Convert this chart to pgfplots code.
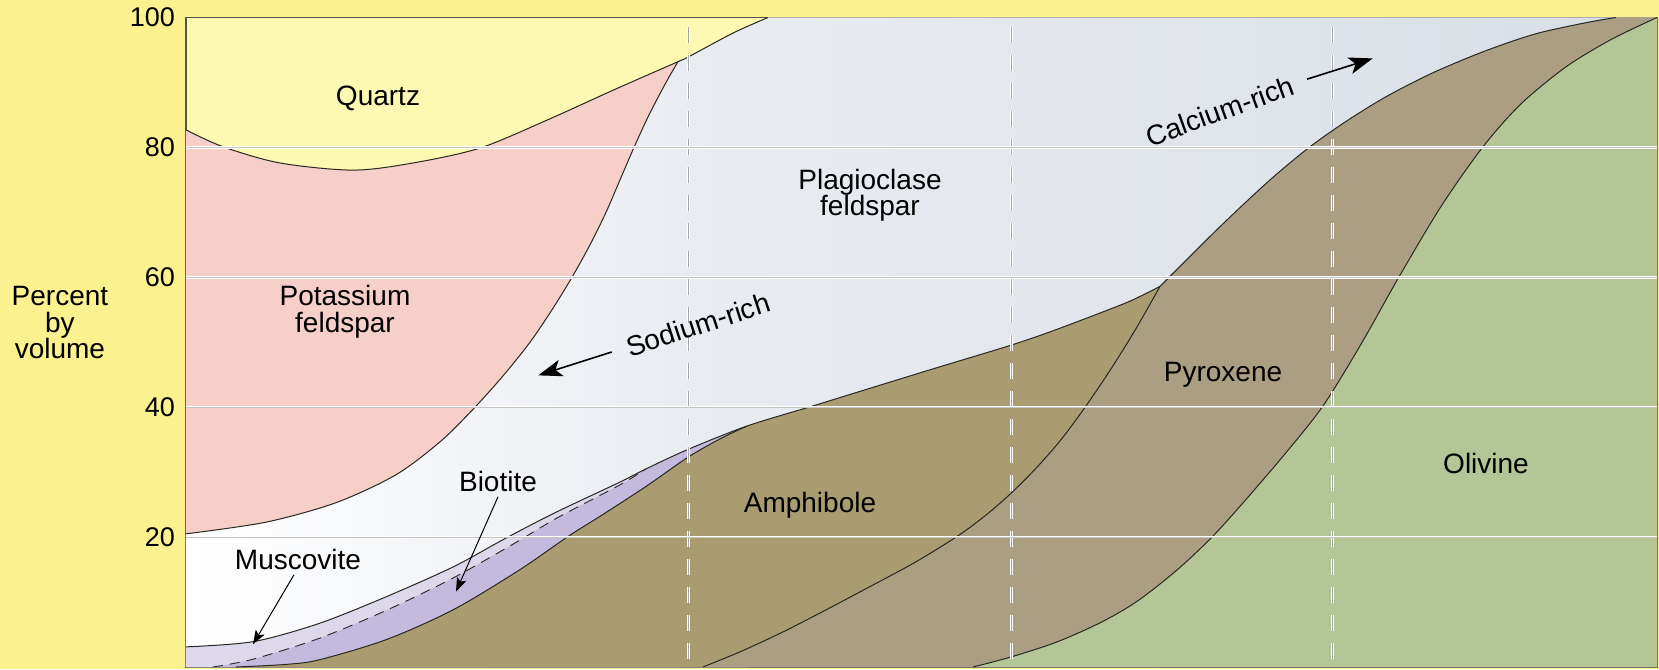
\documentclass[border=0pt]{standalone}
\usepackage{fontspec}
\setmainfont{Liberation Sans}
\usepackage{pgfplots}
\pgfplotsset{compat=1.18}
\usetikzlibrary{arrows.meta}
\definecolor{outerY}{RGB}{251,241,142}
\definecolor{quartzC}{RGB}{253,248,178}
\definecolor{pinkC}{RGB}{245,207,200}
\definecolor{plagM}{RGB}{233,236,241}
\definecolor{plagR}{RGB}{217,222,230}
\definecolor{muscC}{RGB}{222,216,236}
\definecolor{bioC}{RGB}{196,186,221}
\definecolor{amphC}{RGB}{170,156,112}
\definecolor{pyxC}{RGB}{171,158,130}
\definecolor{oliC}{RGB}{180,197,150}
\definecolor{frameC}{RGB}{85,85,75}
\definecolor{gridC}{RGB}{196,196,192}
\definecolor{lineC}{RGB}{40,40,35}
\newcommand{\lab}{\fontsize{14}{13.3}\selectfont}
\begin{document}
\begin{tikzpicture}
\path[use as bounding box, fill=outerY] (-93pt,-1pt) rectangle (736.5pt,333.5pt);
\begin{axis}[
  at={(0,0)}, anchor=south west,
  scale only axis, width=735.5pt, height=324.75pt,
  xmin=0, xmax=1471, ymin=0, ymax=100,
  axis background/.style={fill=quartzC},
  xtick=\empty, ytick={20,40,60,80,100},
  major tick length=0pt,
  tick style={draw=none},
  yticklabel style={font=\fontsize{13.5}{13.5}\selectfont, xshift=-2pt},
  /pgf/number format/assume math mode=true,
  axis line style={draw=frameC, line width=0.8pt},
  ylabel={Percent\\by\\volume},
  ylabel style={at={(axis description cs:-0.0857,0.53)}, rotate=-90, anchor=center, align=center, font=\lab},
  clip=true,
]
% ---------- fills (painted from back to front) ----------
% potassium feldspar: under the quartz boundary (left part)
\addplot[fill=pinkC, draw=none, smooth] coordinates {(0,82.7)(37,80.1)(94,77.6)(167,76.5)(227,77.6)(294,79.9)(361,84.2)(427,88.8)(492,93.2)} \closedcycle;
% small patch under the seam of the two plagioclase pieces
\addplot[fill=plagM, draw=none] coordinates {(487,92)(497,92)} \closedcycle;
% plagioclase, left part: under the K-feldspar boundary
\addplot[draw=none, smooth, left color=white, right color=plagM] coordinates {(0,20.5)(80,22.3)(150,25.3)(210,29.6)(255,34.8)(289,40.0)(318,45.0)(344,50.0)(366,55.0)(386,60.0)(404,65.0)(420,70.0)(434,75.0)(448,80.0)(463,85.0)(480,90.0)(492,93.2)} \closedcycle;
% plagioclase, right part: under the quartz boundary and the top
\addplot[draw=none, left color=plagM, right color=plagR] coordinates {(492,93.2)(502,93.9)(525,95.8)(547,97.6)(565,98.9)(582,100)(1471,100)} \closedcycle;
% muscovite
\addplot[fill=muscC, draw=none, smooth] coordinates {(0,3.1)(67,3.9)(133,6.7)(200,10.8)(267,15.4)(317,19.6)(367,23.6)(433,28.4)(460,30.5)(502,33.5)(561,37.1)} \closedcycle;
% biotite
\addplot[fill=bioC, draw=none, smooth] coordinates {(27,0)(67,1.2)(133,4.4)(200,8.7)(267,13.7)(328,19.0)(367,22.6)(400,25.3)(437,28.3)(460,30.5)(502,33.5)(561,37.1)} \closedcycle;
% amphibole
\addplot[fill=amphC, draw=none, smooth] coordinates {(50,0)(100,0.4)(133,1.1)(200,4.2)(267,8.8)(333,14.9)(383,20.2)(414,23.2)(460,27.8)(502,32.3)(535,35.2)(561,37.1)(627,40.2)(690,43.2)(747,45.9)(824,49.5)(864,51.6)(914,54.5)(945,56.4)(974,58.6)} \closedcycle;
% pyroxene
\addplot[fill=pyxC, draw=none, smooth] coordinates {(517,0)(555,2.4)(597,5.4)(640,8.8)(683,12.3)(730,16.2)(772,20.2)(800,23.4)(824,26.6)(850,30.6)(875,35.0)(900,40.2)(925,45.9)(950,52.1)(974,58.6)(1000,62.6)(1030,67.2)(1060,71.6)(1090,75.8)(1124,80.1)(1160,84.0)(1200,87.8)(1247,91.5)(1300,94.9)(1350,97.5)(1400,99.2)(1430,100)(1471,100)} \closedcycle;
% olivine
\addplot[fill=oliC, draw=none, smooth] coordinates {(787,0)(824,1.5)(870,3.8)(914,6.8)(950,10.0)(990,14.8)(1026,20.0)(1060,25.8)(1100,33.0)(1137,40.2)(1175,49.7)(1212,59.8)(1255,70.9)(1297,80.1)(1335,86.7)(1380,92.4)(1425,96.6)(1471,100)} \closedcycle;
% ---------- boundary lines ----------
\pgfplotsset{bline/.style={lineC, line width=0.5pt, smooth}}
\addplot[bline] coordinates {(0,82.7)(37,80.1)(94,77.6)(167,76.5)(227,77.6)(294,79.9)(361,84.2)(427,88.8)(492,93.2)(502,93.9)(547,97.6)(582,100)};
\addplot[bline] coordinates {(0,20.5)(80,22.3)(150,25.3)(210,29.6)(255,34.8)(289,40.0)(318,45.0)(344,50.0)(366,55.0)(386,60.0)(404,65.0)(420,70.0)(434,75.0)(448,80.0)(463,85.0)(480,90.0)(492,93.2)};
\addplot[bline] coordinates {(0,3.1)(67,3.9)(133,6.7)(200,10.8)(267,15.4)(317,19.6)(367,23.6)(433,28.4)(460,30.5)(502,33.5)(561,37.1)(627,40.2)(690,43.2)(747,45.9)(824,49.5)(864,51.6)(914,54.5)(945,56.4)(974,58.6)};
\addplot[bline, dash pattern=on 5pt off 3.5pt, line width=0.45pt] coordinates {(27,0)(67,1.2)(133,4.4)(200,8.7)(267,13.7)(328,19.0)(367,22.6)(400,25.3)(437,28.3)(460,30.5)};
\addplot[bline] coordinates {(50,0)(100,0.4)(133,1.1)(200,4.2)(267,8.8)(333,14.9)(383,20.2)(414,23.2)(460,27.8)(502,32.3)(535,35.2)(561,37.1)};
\addplot[bline] coordinates {(517,0)(555,2.4)(597,5.4)(640,8.8)(683,12.3)(730,16.2)(772,20.2)(800,23.4)(824,26.6)(850,30.6)(875,35.0)(900,40.2)(925,45.9)(950,52.1)(974,58.6)};
\addplot[bline] coordinates {(974,58.6)(1000,62.6)(1030,67.2)(1060,71.6)(1090,75.8)(1124,80.1)(1160,84.0)(1200,87.8)(1247,91.5)(1300,94.9)(1350,97.5)(1400,99.2)(1430,100)};
\addplot[bline] coordinates {(787,0)(824,1.5)(870,3.8)(914,6.8)(950,10.0)(990,14.8)(1026,20.0)(1060,25.8)(1100,33.0)(1137,40.2)(1175,49.7)(1212,59.8)(1255,70.9)(1297,80.1)(1335,86.7)(1380,92.4)(1425,96.6)(1471,100)};
% ---------- vertical dashed lines ----------
\pgfplotsset{vw/.style={white, line width=1.5pt, dash pattern=on 8pt off 6pt}, vg/.style={gray!70, line width=0.45pt, dash pattern=on 8pt off 6pt}}
\addplot[vw] coordinates {(502,98.5)(502,0)};
\addplot[vw] coordinates {(825,98.5)(825,0)};
\addplot[vw] coordinates {(1146,98.5)(1146,0)};
\addplot[vg] coordinates {(502,98.5)(502,0)};
\addplot[vg] coordinates {(825,98.5)(825,0)};
\addplot[vg] coordinates {(1146,98.5)(1146,0)};
% ---------- grid lines ----------
\pgfplotsset{gw/.style={white, line width=1.3pt}, gg/.style={gridC, line width=0.4pt}}
\addplot[gw] coordinates {(0,20)(1471,20)};
\addplot[gw] coordinates {(0,40)(1471,40)};
\addplot[gw] coordinates {(0,60)(1471,60)};
\addplot[gw] coordinates {(0,80)(1471,80)};
\addplot[gg] coordinates {(0,20)(1471,20)};
\addplot[gg] coordinates {(0,40)(1471,40)};
\addplot[gg] coordinates {(0,60)(1471,60)};
\addplot[gg] coordinates {(0,80)(1471,80)};
% ---------- arrows ----------
\addplot[black, line width=0.8pt, -{Stealth[length=12pt,width=8.5pt,inset=3pt]}] coordinates {(425.7,48.5)(352.3,44.9)};
\addplot[black, line width=0.8pt, -{Stealth[length=12pt,width=8.5pt,inset=3pt]}] coordinates {(1121,90.5)(1186.7,93.7)};
\addplot[black, line width=0.5pt, -{Stealth[length=7pt,width=5pt,inset=1.5pt]}] coordinates {(312,26.2)(270,11.6)};
\addplot[black, line width=0.5pt, -{Stealth[length=7pt,width=5pt,inset=1.5pt]}] coordinates {(108,14.2)(67,3.5)};
% ---------- labels ----------
\node[font=\lab] at (axis cs:192,87.6) {Quartz};
\node[font=\lab, align=center] at (axis cs:159,54.7) {Potassium\\feldspar};
\node[font=\lab, align=center] at (axis cs:684,72.65) {Plagioclase\\feldspar};
\node[font=\lab, rotate=18] at (axis cs:512,52.7) {Sodium-rich};
\node[font=\lab, rotate=20] at (axis cs:1034,85.6) {Calcium-rich};
\node[font=\lab] at (axis cs:1037,45.0) {Pyroxene};
\node[font=\lab] at (axis cs:624,24.9) {Amphibole};
\node[font=\lab] at (axis cs:1300,31.3) {Olivine};
\node[font=\lab] at (axis cs:312,28.5) {Biotite};
\node[font=\lab] at (axis cs:112,16.5) {Muscovite};
\end{axis}
\end{tikzpicture}
\end{document}
